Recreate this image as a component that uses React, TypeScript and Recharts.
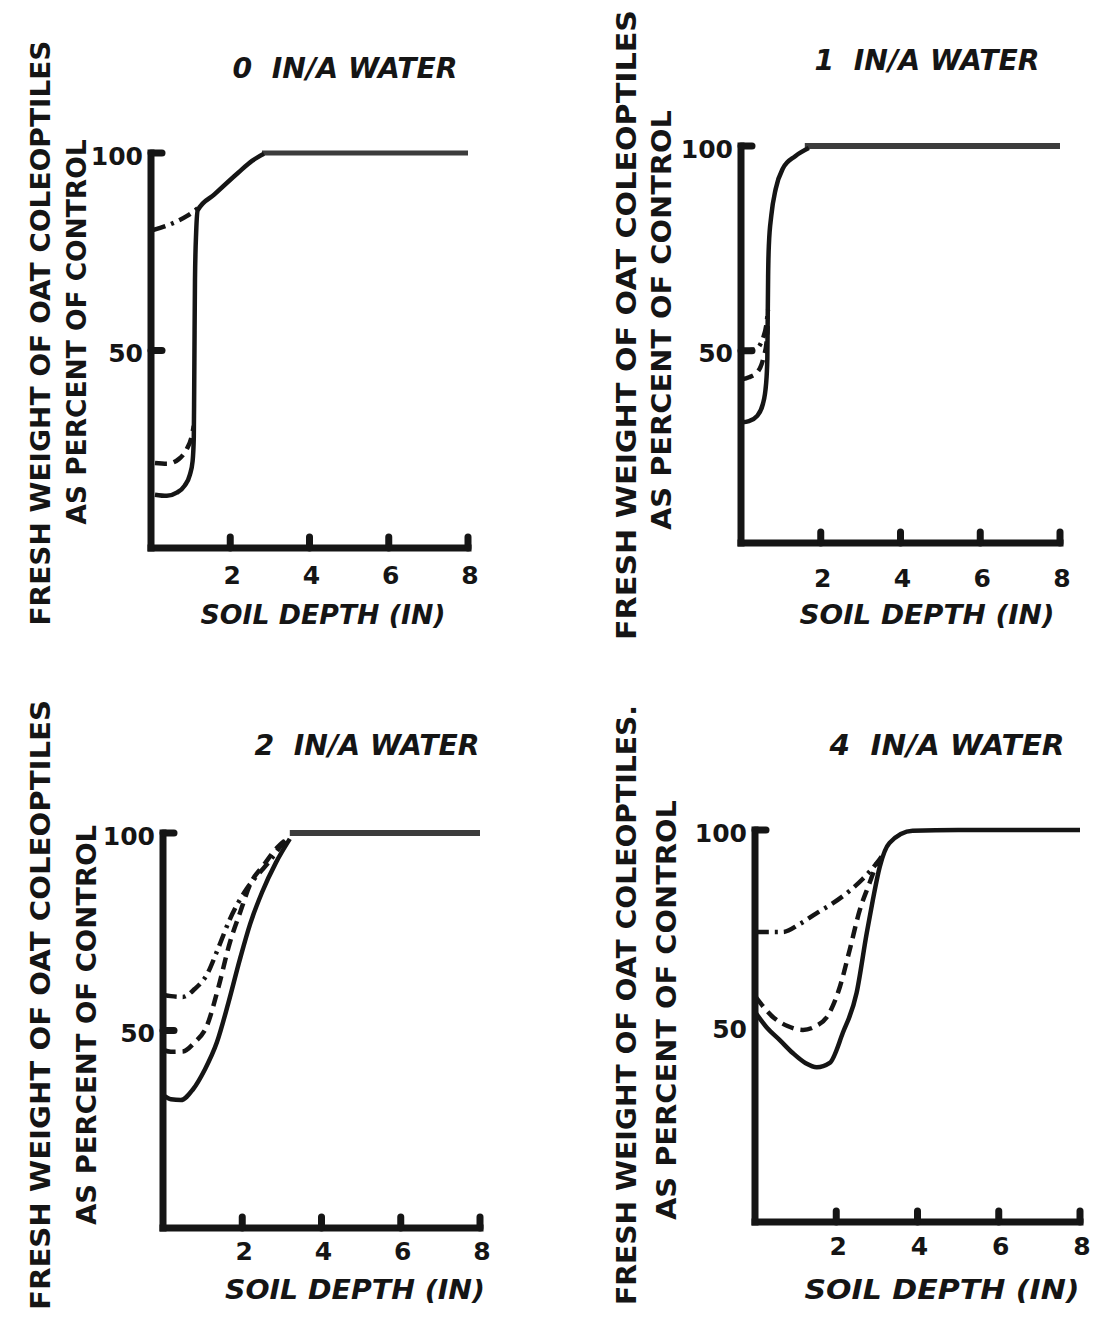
import React from 'react';
import { LineChart, Line, XAxis, YAxis } from 'recharts';

type Pt = { x: number; y: number };
const toPts = (a: number[][]): Pt[] => a.map(([x, y]) => ({ x, y }));

// ---------- shared axis ticks ----------
const xTicks = [2, 4, 6, 8];
const yTicks = [50, 100];

// ---------- panel titles / labels ----------
const titles = ['0  IN/A WATER', '1  IN/A WATER', '2  IN/A WATER', '4  IN/A WATER'];
const yLabel1 = ['FRESH WEIGHT OF OAT COLEOPTILES', 'FRESH WEIGHT OF OAT COLEOPTILES', 'FRESH WEIGHT OF OAT COLEOPTILES', 'FRESH WEIGHT OF OAT COLEOPTILES.'];
const yLabel2 = 'AS PERCENT OF CONTROL';
const xLabel = 'SOIL DEPTH (IN)';

// ---------- data: soil depth (in), % of control ----------
// 0 in/A water
const w0Solid = [[0.1, 13.5], [0.4, 13.2], [0.65, 14], [0.85, 15.8], [0.98, 18.5], [1.05, 22], [1.08, 28], [1.09, 40], [1.1, 55], [1.11, 68], [1.14, 80], [1.18, 85.5], [1.6, 89.5], [2.2, 95], [2.55, 98], [2.85, 99.8]];
const w0Dashed = [[0.1, 21.5], [0.4, 21.3], [0.7, 22.5], [0.9, 25], [1.02, 28], [1.08, 31]];
const w0DashDot = [[0.05, 80.5], [0.5, 82], [0.9, 84], [1.18, 86]];
const w0Plateau = [[2.8, 100], [8, 100]];

// 1 in/A water
const w1Solid = [[0.02, 32.5], [0.2, 32.8], [0.4, 34], [0.55, 37], [0.63, 42], [0.66, 48], [0.67, 58], [0.68, 68], [0.7, 76], [0.76, 83], [0.87, 89.5], [1.05, 94.5], [1.36, 97.5], [1.7, 99.5]];
const w1Dashed = [[0.02, 43], [0.2, 43.5], [0.43, 45], [0.57, 48.5], [0.64, 52], [0.67, 56]];
const w1DashDot = [[0.02, 50], [0.35, 50.3], [0.55, 53], [0.63, 56], [0.68, 60]];
const w1Plateau = [[1.6, 100], [8, 100]];

// 2 in/A water
const w2Solid = [[0.02, 33.5], [0.2, 32.6], [0.45, 32.4], [0.75, 35], [1.05, 40], [1.36, 47], [1.65, 57], [1.94, 68], [2.2, 77], [2.5, 85], [2.85, 92.5], [3.2, 98.5]];
const w2Dashed = [[0.02, 45], [0.2, 44.6], [0.5, 44.7], [0.8, 47], [1.1, 51], [1.4, 61], [1.68, 72], [1.95, 80], [2.2, 87], [2.55, 92], [2.9, 96.5], [3.2, 99]];
const w2DashDot = [[0.02, 59], [0.2, 58.7], [0.5, 58.5], [0.8, 60.5], [1.1, 64], [1.4, 71], [1.68, 78], [2.1, 85.7], [2.4, 89.5], [2.7, 93], [3.0, 97], [3.2, 99]];
const w2Plateau = [[3.2, 100], [8, 100]];

// 4 in/A water
const w4Solid = [[0.02, 53.3], [0.3, 49.5], [0.61, 46.4], [0.93, 43.1], [1.25, 40.5], [1.52, 39.5], [1.84, 40.6], [2.16, 48.2], [2.5, 58.4], [2.75, 73.7], [2.9, 82.1], [3.07, 90.6], [3.31, 96.7], [3.88, 99.8], [5, 100], [8, 100]];
const w4Dashed = [[0.02, 57.4], [0.44, 52.3], [0.8, 50], [1.18, 49], [1.5, 50], [1.77, 52.3], [2.09, 60], [2.33, 69.4], [2.58, 79.6], [2.82, 86.5], [3.0, 91.6]];
const w4DashDot = [[0.02, 74], [0.69, 74], [1.1, 76], [1.52, 78.8], [1.9, 81.2], [2.26, 83.9], [2.65, 87.5], [3.0, 91.6], [3.14, 93.6]];

// ---------- styles / layout ----------
const INK = '#151515';
const FONT = "'DejaVu Sans', 'Liberation Sans', sans-serif";
const DASHED = '12 7';
const DASHDOT = '13 6 3 6';

type Series = { data: number[][]; dash?: string; color?: string; width?: number };

type PanelSpec = {
  left: number; top: number; width: number; height: number;
  yMin: number;
  series: Series[];
  xLabelDy: number;
  hide50Tick?: boolean;
};

const ML = 80, MT = 20, MR = 20, MB = 60;

const XTick = (props: any) => {
  const { x, y, payload, dy } = props;
  return (
    <g>
      <line x1={x} x2={x} y1={y} y2={y - 11} stroke={INK} strokeWidth={7} strokeLinecap="round" />
      <text x={x + 2} y={y + dy} textAnchor="middle" dominantBaseline="central" fontFamily={FONT} fontWeight="bold" fontSize={25} fill={INK}>
        {payload.value}
      </text>
    </g>
  );
};

const YTick = (props: any) => {
  const { x, y, payload, hide50 } = props;
  const showLine = !(hide50 && payload.value === 50);
  return (
    <g>
      {showLine && <line x1={x} x2={x + 11} y1={y} y2={y} stroke={INK} strokeWidth={7} strokeLinecap="round" />}
      <text x={x - 8} y={y + 3} textAnchor="end" dominantBaseline="central" fontFamily={FONT} fontWeight="bold" fontSize={25} fill={INK}>
        {payload.value}
      </text>
    </g>
  );
};

const Panel = ({ spec }: { spec: PanelSpec }) => {
  const W = spec.width + ML + MR;
  const H = spec.height + MT + MB;
  return (
    <div style={{ position: 'absolute', left: spec.left - ML, top: spec.top - MT, width: W, height: H }}>
      <LineChart width={W} height={H} margin={{ top: MT, right: MR, bottom: 0, left: 0 }}>
        <XAxis
          type="number"
          dataKey="x"
          domain={[0, 8]}
          ticks={xTicks}
          interval={0}
          height={MB}
          tickSize={0}
          tickMargin={0}
          tickLine={false}
          axisLine={{ stroke: INK, strokeWidth: 7, strokeLinecap: 'square' } as any}
          tick={(p: any) => <XTick {...p} dy={spec.xLabelDy} />}
        />
        <YAxis
          type="number"
          dataKey="y"
          domain={[spec.yMin, 100]}
          ticks={yTicks}
          interval={0}
          width={ML}
          tickSize={0}
          tickMargin={0}
          tickLine={false}
          axisLine={{ stroke: INK, strokeWidth: 7, strokeLinecap: 'square' } as any}
          tick={(p: any) => <YTick {...p} hide50={spec.hide50Tick} />}
        />
        {spec.series.map((s, i) => (
          <Line
            key={i}
            data={toPts(s.data)}
            dataKey="y"
            type="monotone"
            stroke={s.color ?? INK}
            strokeWidth={s.width ?? 4.5}
            strokeDasharray={s.dash}
            dot={false}
            activeDot={false}
            isAnimationActive={false}
            legendType="none"
          />
        ))}
      </LineChart>
    </div>
  );
};

const PLATEAU = '#3c3c3c';

const panels: PanelSpec[] = [
  {
    left: 151, top: 153, width: 317, height: 395, yMin: 0, xLabelDy: 27,
    series: [
      { data: w0Plateau, color: PLATEAU, width: 5 },
      { data: w0Solid },
      { data: w0Dashed, dash: DASHED },
      { data: w0DashDot, dash: DASHDOT },
    ],
  },
  {
    left: 741, top: 146, width: 319, height: 397, yMin: 3, xLabelDy: 35,
    series: [
      { data: w1Plateau, color: PLATEAU, width: 6 },
      { data: w1Solid },
      { data: w1Dashed, dash: DASHED },
      { data: w1DashDot, dash: DASHDOT },
    ],
  },
  {
    left: 163, top: 833, width: 317, height: 395, yMin: 0, xLabelDy: 23,
    series: [
      { data: w2Plateau, color: PLATEAU, width: 6 },
      { data: w2Solid },
      { data: w2Dashed, dash: DASHED },
      { data: w2DashDot, dash: DASHDOT },
    ],
  },
  {
    left: 755, top: 830, width: 325, height: 392, yMin: 0, xLabelDy: 24, hide50Tick: true,
    series: [
      { data: w4Solid },
      { data: w4Dashed, dash: DASHED },
      { data: w4DashDot, dash: DASHDOT },
    ],
  },
];

// label placement (page coords) for each panel
const labelPos = [
  { tx: 345, ty: 68, tw: 225, y1x: 40, y1y: 333, y1w: 585, y2x: 76, y2y: 332, y2w: 385, xx: 323, xy: 615, xw: 245 },
  { tx: 927, ty: 60, tw: 225, y1x: 626, y1y: 325, y1w: 630, y2x: 661, y2y: 320, y2w: 420, xx: 927, xy: 615, xw: 255 },
  { tx: 367, ty: 745, tw: 225, y1x: 40, y1y: 1005, y1w: 610, y2x: 86, y2y: 1025, y2w: 400, xx: 355, xy: 1290, xw: 260 },
  { tx: 947, ty: 745, tw: 235, y1x: 626, y1y: 1005, y1w: 600, y2x: 666, y2y: 1010, y2w: 420, xx: 942, xy: 1290, xw: 275 },
];

const Labels = () => (
  <svg width={1095} height={1317} style={{ position: 'absolute', left: 0, top: 0 }}>
    {labelPos.map((p, i) => (
      <g key={i} fontFamily={FONT} fontWeight="bold" fill={INK}>
        <text x={p.tx} y={p.ty} textAnchor="middle" dominantBaseline="central" fontSize={28} fontStyle="italic" textLength={p.tw} lengthAdjust="spacingAndGlyphs" xmlSpace="preserve">
          {titles[i]}
        </text>
        <text transform={`translate(${p.y1x},${p.y1y}) rotate(-90)`} textAnchor="middle" dominantBaseline="central" fontSize={27} textLength={p.y1w} lengthAdjust="spacingAndGlyphs">
          {yLabel1[i]}
        </text>
        <text transform={`translate(${p.y2x},${p.y2y}) rotate(-90)`} textAnchor="middle" dominantBaseline="central" fontSize={27} textLength={p.y2w} lengthAdjust="spacingAndGlyphs">
          {yLabel2}
        </text>
        <text x={p.xx} y={p.xy} textAnchor="middle" dominantBaseline="central" fontSize={26} fontStyle="italic" textLength={p.xw} lengthAdjust="spacingAndGlyphs">
          {xLabel}
        </text>
      </g>
    ))}
  </svg>
);

export default function App() {
  return (
    <div style={{ position: 'absolute', left: 0, top: 0, width: 1095, height: 1317, background: '#fff', overflow: 'hidden' }}>
      <Labels />
      {panels.map((p, i) => (
        <Panel key={i} spec={p} />
      ))}
    </div>
  );
}
